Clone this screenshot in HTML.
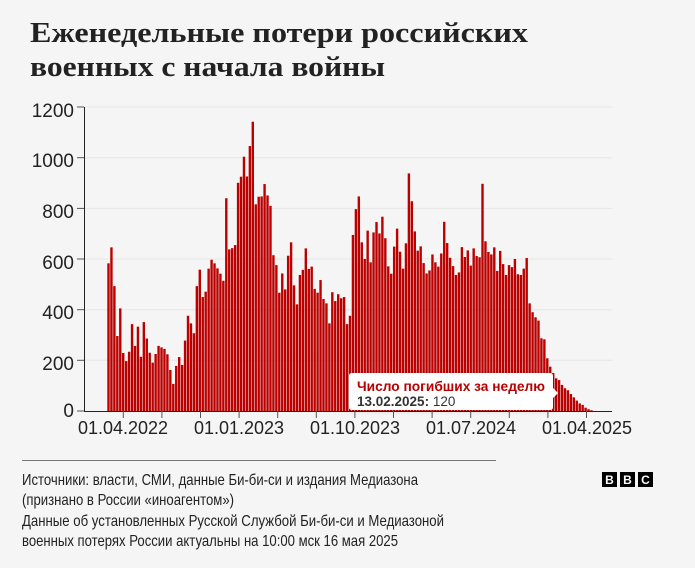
<!DOCTYPE html>
<html><head><meta charset="utf-8">
<style>
html,body{margin:0;padding:0;background:#f5f5f5;}
svg{display:block;}
</style></head>
<body>
<svg id="s" width="695" height="568" viewBox="0 0 695 568" xmlns="http://www.w3.org/2000/svg">
<rect width="695" height="568" fill="#f5f5f5"/>
<g font-family="'Liberation Serif','DejaVu Serif',serif" font-weight="bold" font-size="29" fill="#222">
<text x="30" y="42" textLength="498" lengthAdjust="spacingAndGlyphs">Еженедельные потери российских</text>
<text x="30" y="76" textLength="355" lengthAdjust="spacingAndGlyphs">военных с начала войны</text>
</g>
<g id="grid" stroke="#e6e6e6" stroke-width="1"></g>
<g id="bars" fill="#bb0000"></g>
<g font-family="'Liberation Sans',sans-serif" font-size="19" fill="#222" text-anchor="end">
<text x="74" y="117">1200</text>
<text x="74" y="167">1000</text>
<text x="74" y="218">800</text>
<text x="74" y="269">600</text>
<text x="74" y="319">400</text>
<text x="74" y="370">200</text>
<text x="74" y="417">0</text>
</g>
<g id="yt" stroke="#555" stroke-width="1"></g>
<line x1="84.5" y1="107" x2="84.5" y2="411" stroke="#222" stroke-width="1"/>
<line x1="84" y1="411.5" x2="612" y2="411.5" stroke="#222" stroke-width="1"/>
<g id="xt" stroke="#555" stroke-width="1"></g>
<g font-family="'Liberation Sans',sans-serif" font-size="18" fill="#222" text-anchor="middle">
<text x="123" y="434">01.04.2022</text>
<text x="239" y="434">01.01.2023</text>
<text x="355" y="434">01.10.2023</text>
<text x="471" y="434">01.07.2024</text>
<text x="587" y="434">01.04.2025</text>
</g>
<defs><filter id="sh" x="-10%" y="-20%" width="120%" height="150%"><feDropShadow dx="0" dy="1" stdDeviation="2" flood-opacity="0.2"/></filter></defs>
<path d="M352 373 H550 Q553 373 553 376 V388 L558 393 L553 398 V407 Q553 410 550 410 H352 Q349 410 349 407 V376 Q349 373 352 373 Z" fill="#fff" filter="url(#sh)"/>
<g font-family="'Liberation Sans',sans-serif" font-size="13.5">
<text x="357" y="391" fill="#b80000" font-weight="bold" textLength="188" lengthAdjust="spacingAndGlyphs">Число погибших за неделю</text>
<text x="357" y="406" fill="#333"><tspan font-weight="bold">13.02.2025:</tspan> 120</text>
</g>
<line x1="22" y1="460.5" x2="496" y2="460.5" stroke="#777" stroke-width="1"/>
<g font-family="'Liberation Sans',sans-serif" font-size="16" fill="#222">
<text x="22" y="485" textLength="396" lengthAdjust="spacingAndGlyphs">Источники: власти, СМИ, данные Би-би-си и издания Медиазона</text>
<text x="22" y="505" textLength="212" lengthAdjust="spacingAndGlyphs">(признано в России «иноагентом»)</text>
<text x="22" y="526" textLength="422" lengthAdjust="spacingAndGlyphs">Данные об установленных Русской Службой Би-би-си и Медиазоной</text>
<text x="22" y="546" textLength="376" lengthAdjust="spacingAndGlyphs">военных потерях России актуальны на 10:00 мск 16 мая 2025</text>
</g>
<g font-family="'Liberation Sans',sans-serif" font-weight="bold" font-size="12" fill="#fff" text-anchor="middle">
<rect x="602" y="472" width="15" height="15" fill="#000"/><text x="609.5" y="484">B</text>
<rect x="620" y="472" width="15" height="15" fill="#000"/><text x="627.5" y="484">B</text>
<rect x="638" y="472" width="15" height="15" fill="#000"/><text x="645.5" y="484">C</text>
</g>
</svg>
<script>
var v=[583,646,493,296,405,229,197,234,343,257,333,214,351,286,230,191,225,257,251,245,224,162,107,178,213,182,278,376,346,307,493,558,450,471,562,597,583,563,542,514,840,638,643,655,901,925,1004,926,1046,1142,816,846,847,896,851,810,615,576,467,543,480,613,666,496,421,537,557,642,561,570,482,467,517,442,425,346,469,434,461,445,450,343,376,695,797,847,666,600,712,587,705,746,701,767,682,571,542,649,720,629,562,662,938,828,709,633,650,584,543,555,618,587,570,622,747,663,605,572,537,547,647,608,634,574,642,612,607,897,670,628,618,646,553,632,580,537,576,568,600,540,537,562,604,425,390,370,357,287,283,208,175,150,129,122,103,90,82,67,54,41,30,24,13,7,3];
var NS="http://www.w3.org/2000/svg",s=0.2533,b=document.getElementById('bars');
function el(p,t,a){var e=document.createElementNS(NS,t);for(var k in a)e.setAttribute(k,a[k]);p.appendChild(e);}
for(var i=0;i<v.length;i++){var h=v[i]*s;el(b,'rect',{x:(107.3+i*2.945).toFixed(2),y:(411-h).toFixed(2),width:2.4,height:h.toFixed(2)});}
var g=document.getElementById('grid'),yt=document.getElementById('yt');
for(var j=1;j<=6;j++){var y=411-j*200*s;el(g,'line',{x1:85,x2:612,y1:y.toFixed(1),y2:y.toFixed(1)});}
for(var j=0;j<=6;j++){var y=411-j*200*s;el(yt,'line',{x1:77,x2:84,y1:y.toFixed(1),y2:y.toFixed(1)});}
var xt=document.getElementById('xt');
for(var k=0;k<=12;k++){var x=123.3+k*38.6;el(xt,'line',{x1:x.toFixed(1),x2:x.toFixed(1),y1:411,y2:418});}
</script>
</body></html>
